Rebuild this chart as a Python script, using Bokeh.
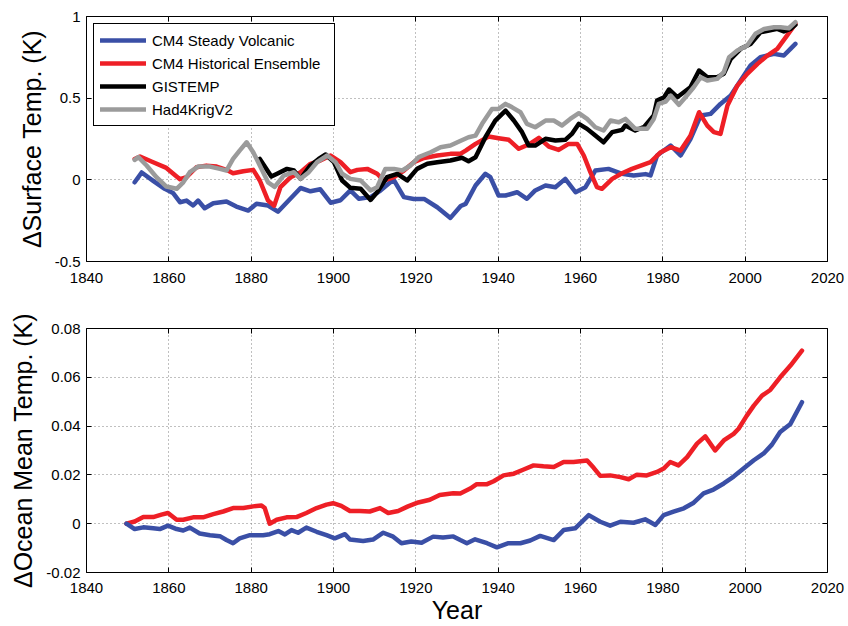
from bokeh.plotting import figure
from bokeh.layouts import column
from bokeh.models import FixedTicker, LinearAxis, Legend, LegendItem, Range1d
from bokeh.embed import file_html
from bokeh.resources import INLINE

# ---------------------------------------------------------------------------
# Surface temperature anomaly (K)
# ---------------------------------------------------------------------------
volc_sfc_years = [1851.7, 1853.4, 1856.2, 1859.0, 1861.0, 1862.7, 1864.3, 1865.9, 1867.1, 1868.7,
                  1870.8, 1874.0, 1876.4, 1879.3, 1881.3, 1884.1, 1886.5, 1892.0, 1894.4, 1896.8,
                  1899.3, 1901.7, 1904.1, 1906.2, 1909.0, 1911.4, 1913.8, 1914.7, 1917.1, 1919.5,
                  1922.0, 1925.2, 1928.4, 1930.9, 1932.1, 1934.5, 1936.9, 1938.1, 1940.1, 1941.8,
                  1944.6, 1947.0, 1949.0, 1951.5, 1953.9, 1956.3, 1958.8, 1961.2, 1963.6, 1966.8,
                  1970.1, 1972.9, 1975.8, 1977.0, 1978.6, 1981.9, 1984.3, 1986.7, 1989.2, 1991.6,
                  1994.0, 1996.5, 1998.9, 2001.3, 2003.7, 2007.0, 2009.4, 2011.0, 2012.2]
volc_sfc = [-0.015, 0.045, -0.006, -0.055, -0.080, -0.137, -0.127, -0.157, -0.127, -0.174,
            -0.143, -0.133, -0.164, -0.188, -0.147, -0.157, -0.195, -0.050, -0.070, -0.058,
            -0.140, -0.125, -0.065, -0.116, -0.106, -0.066, -0.015, -0.003, -0.106, -0.117,
            -0.117, -0.168, -0.233, -0.160, -0.147, -0.035, 0.037, 0.016, -0.096, -0.096,
            -0.076, -0.116, -0.065, -0.035, -0.045, 0.006, -0.076, -0.045, 0.057, 0.067,
            0.037, 0.027, 0.035, 0.027, 0.149, 0.210, 0.149, 0.250, 0.394, 0.404,
            0.465, 0.516, 0.608, 0.700, 0.751, 0.771, 0.761, 0.802, 0.832]

hist_sfc_years = [1851.7, 1853.0, 1856.2, 1859.4, 1862.7, 1864.3, 1866.7, 1869.1, 1871.6, 1874.0,
                  1875.6, 1878.1, 1880.5, 1882.1, 1884.1, 1885.6, 1887.1, 1889.6, 1892.0, 1894.4,
                  1896.8, 1899.3, 1901.7, 1904.1, 1905.8, 1908.2, 1910.6, 1912.2, 1914.7, 1917.1,
                  1919.5, 1922.0, 1925.2, 1928.4, 1930.9, 1932.1, 1934.5, 1937.7, 1940.1, 1942.6,
                  1945.0, 1947.4, 1949.9, 1952.3, 1954.7, 1957.1, 1959.2, 1960.8, 1962.4, 1964.0,
                  1965.2, 1967.7, 1970.1, 1972.5, 1975.0, 1977.0, 1979.5, 1981.9, 1984.3, 1986.7,
                  1988.8, 1990.8, 1992.4, 1994.0, 1995.7, 1998.1, 2000.5, 2003.0, 2005.4, 2007.8,
                  2010.2, 2012.2]
hist_sfc = [0.128, 0.143, 0.108, 0.073, 0.004, 0.016, 0.077, 0.087, 0.081, 0.061,
            0.040, 0.053, 0.061, -0.004, -0.127, -0.158, -0.045, 0.016, 0.047, 0.098,
            0.118, 0.149, 0.108, 0.047, 0.061, 0.067, 0.037, -0.004, 0.016, 0.057,
            0.108, 0.134, 0.149, 0.159, 0.160, 0.179, 0.220, 0.265, 0.255, 0.245,
            0.190, 0.216, 0.257, 0.204, 0.183, 0.220, 0.220, 0.149, 0.047, -0.045,
            -0.055, 0.006, 0.040, 0.067, 0.090, 0.108, 0.169, 0.200, 0.179, 0.270,
            0.414, 0.332, 0.292, 0.281, 0.455, 0.577, 0.649, 0.710, 0.761, 0.802,
            0.884, 0.955]

gistemp_years = [1882.1, 1884.9, 1886.3, 1888.7, 1890.4, 1892.0, 1894.4, 1896.4, 1898.1, 1900.1,
                 1902.1, 1904.1, 1906.6, 1909.0, 1910.6, 1913.0, 1915.5, 1917.9, 1920.3, 1922.8,
                 1925.2, 1928.4, 1931.2, 1932.8, 1934.5, 1936.9, 1939.3, 1941.8, 1943.8, 1945.8,
                 1947.4, 1949.0, 1951.5, 1953.9, 1956.3, 1957.9, 1959.6, 1961.6, 1963.6, 1965.6,
                 1967.7, 1970.1, 1970.9, 1973.3, 1975.5, 1977.8, 1978.6, 1980.3, 1981.5, 1983.5,
                 1985.1, 1986.7, 1988.8, 1990.8, 1993.2, 1994.8, 1996.5, 1998.9, 2001.3, 2003.7,
                 2005.8, 2007.8, 2009.4, 2011.0, 2012.2]
gistemp = [0.128, 0.020, 0.037, 0.067, 0.057, 0.006, 0.088, 0.128, 0.155, 0.108,
           -0.004, -0.049, -0.055, -0.123, -0.076, 0.016, 0.037, -0.004, 0.067, 0.098,
           0.108, 0.118, 0.135, 0.114, 0.138, 0.261, 0.363, 0.424, 0.363, 0.292,
           0.210, 0.210, 0.251, 0.241, 0.245, 0.281, 0.343, 0.312, 0.271, 0.230,
           0.292, 0.306, 0.333, 0.302, 0.325, 0.394, 0.485, 0.506, 0.553, 0.506,
           0.536, 0.567, 0.669, 0.628, 0.628, 0.649, 0.741, 0.802, 0.832, 0.904,
           0.914, 0.924, 0.908, 0.924, 0.949]

had4_years = [1851.7, 1852.6, 1854.6, 1857.0, 1859.4, 1861.9, 1863.5, 1865.1, 1867.1, 1870.0,
              1872.4, 1874.0, 1875.6, 1877.2, 1878.9, 1880.5, 1882.1, 1884.1, 1885.7, 1887.9,
              1890.4, 1892.0, 1894.0, 1896.0, 1898.5, 1900.5, 1902.1, 1904.1, 1906.6, 1909.0,
              1910.6, 1912.6, 1914.7, 1916.7, 1918.7, 1920.7, 1923.6, 1926.0, 1928.4, 1930.5,
              1932.8, 1934.5, 1936.1, 1938.5, 1940.1, 1941.8, 1943.4, 1945.4, 1947.0, 1949.0,
              1951.5, 1953.5, 1955.5, 1957.5, 1959.6, 1961.6, 1963.6, 1965.6, 1967.3, 1969.3,
              1970.9, 1973.3, 1976.2, 1977.8, 1979.0, 1980.7, 1981.9, 1983.9, 1985.5, 1987.5,
              1989.2, 1990.8, 1993.2, 1994.8, 1996.1, 1998.1, 2000.5, 2002.5, 2004.6, 2007.0,
              2008.6, 2010.6, 2012.2]
had4 = [0.122, 0.139, 0.088, 0.016, -0.041, -0.055, -0.015, 0.047, 0.081, 0.081,
        0.067, 0.057, 0.128, 0.179, 0.230, 0.169, 0.088, -0.015, -0.043, 0.026,
        0.047, 0.006, 0.047, 0.108, 0.149, 0.108, 0.037, 0.006, -0.004, -0.065,
        -0.045, 0.067, 0.067, 0.057, 0.088, 0.139, 0.169, 0.200, 0.210, 0.235,
        0.261, 0.271, 0.343, 0.434, 0.434, 0.465, 0.444, 0.414, 0.343, 0.322,
        0.363, 0.363, 0.333, 0.373, 0.408, 0.373, 0.322, 0.302, 0.363, 0.353,
        0.373, 0.312, 0.312, 0.373, 0.465, 0.479, 0.516, 0.459, 0.506, 0.567,
        0.628, 0.608, 0.618, 0.659, 0.751, 0.792, 0.822, 0.894, 0.924, 0.934,
        0.934, 0.928, 0.965]

# ---------------------------------------------------------------------------
# Ocean mean temperature anomaly (K)
# ---------------------------------------------------------------------------
volc_ocn_years = [1849.7, 1851.7, 1853.8, 1856.2, 1857.8, 1859.8, 1861.9, 1863.5, 1865.1, 1867.5,
                  1870.0, 1872.4, 1874.0, 1875.6, 1877.2, 1879.7, 1882.9, 1884.5, 1886.6, 1888.2,
                  1889.8, 1891.4, 1893.4, 1895.9, 1898.3, 1900.3, 1902.8, 1904.0, 1907.2, 1909.6,
                  1912.1, 1914.5, 1916.5, 1918.9, 1921.4, 1924.2, 1926.6, 1929.1, 1930.8, 1932.4,
                  1934.4, 1937.3, 1939.7, 1942.5, 1945.4, 1947.8, 1950.2, 1953.5, 1955.9, 1958.7,
                  1962.0, 1964.8, 1967.2, 1969.7, 1972.9, 1975.7, 1978.2, 1980.2, 1982.6, 1985.1,
                  1987.5, 1989.9, 1992.3, 1994.8, 1997.2, 1999.6, 2002.1, 2004.5, 2006.5, 2008.5,
                  2011.0, 2013.8]
volc_ocn = [0.0, -0.0022, -0.0015, -0.0019, -0.0022, -0.0008, -0.0022, -0.0028, -0.0016, -0.0040,
            -0.0047, -0.0051, -0.0067, -0.0080, -0.0060, -0.0047, -0.0047, -0.0043, -0.0030, -0.0044,
            -0.0026, -0.0037, -0.0016, -0.0033, -0.0047, -0.0060, -0.0043, -0.0065, -0.0071, -0.0065,
            -0.0037, -0.0053, -0.0080, -0.0073, -0.0078, -0.0053, -0.0057, -0.0052, -0.0067, -0.0080,
            -0.0064, -0.0080, -0.0097, -0.0080, -0.0080, -0.0069, -0.0050, -0.0067, -0.0026, -0.0019,
            0.0035, 0.0008, -0.0008, 0.0008, 0.0004, 0.0018, -0.0005, 0.0035, 0.0049, 0.0063,
            0.0086, 0.0124, 0.0140, 0.0165, 0.0193, 0.0226, 0.0260, 0.0288, 0.0324, 0.0376,
            0.0409, 0.0498]

hist_ocn_years = [1849.7, 1851.7, 1853.8, 1856.2, 1858.2, 1859.8, 1861.9, 1863.5, 1865.9, 1868.3,
                  1870.8, 1873.2, 1875.6, 1878.1, 1880.5, 1882.5, 1883.3, 1884.5, 1886.2, 1888.6,
                  1891.0, 1893.4, 1895.9, 1898.3, 1899.9, 1901.9, 1904.0, 1906.4, 1908.8, 1911.3,
                  1913.3, 1915.7, 1918.1, 1920.6, 1923.4, 1925.8, 1929.1, 1930.8, 1933.2, 1934.8,
                  1937.3, 1938.9, 1941.3, 1943.8, 1946.2, 1948.6, 1951.0, 1953.5, 1955.9, 1958.3,
                  1961.6, 1963.2, 1964.8, 1967.2, 1969.7, 1971.7, 1973.7, 1976.1, 1978.6, 1980.2,
                  1981.8, 1983.8, 1985.9, 1988.3, 1990.3, 1992.7, 1994.8, 1997.2, 1998.4, 2000.4,
                  2002.1, 2004.1, 2006.1, 2008.5, 2011.0, 2013.8]
hist_ocn = [0.0, 0.0009, 0.0027, 0.0027, 0.0037, 0.0044, 0.0016, 0.0016, 0.0026, 0.0026,
            0.0039, 0.0050, 0.0064, 0.0064, 0.0071, 0.0075, 0.0064, 0.0, 0.0016, 0.0026,
            0.0027, 0.0044, 0.0064, 0.0078, 0.0084, 0.0073, 0.0052, 0.0052, 0.0050, 0.0064,
            0.0044, 0.0052, 0.0071, 0.0087, 0.0098, 0.0118, 0.0125, 0.0124, 0.0144, 0.0162,
            0.0162, 0.0174, 0.0198, 0.0205, 0.0222, 0.0239, 0.0235, 0.0232, 0.0253, 0.0253,
            0.0259, 0.0229, 0.0196, 0.0198, 0.0191, 0.0182, 0.0201, 0.0198, 0.0212, 0.0226,
            0.0253, 0.0239, 0.0273, 0.0328, 0.0358, 0.0300, 0.0341, 0.0368, 0.0389, 0.0443,
            0.0484, 0.0525, 0.0548, 0.0600, 0.0648, 0.0709]

# Axis ticks and labels
year_ticks = [1840, 1860, 1880, 1900, 1920, 1940, 1960, 1980, 2000, 2020]
sfc_ticks = [-0.5, 0, 0.5, 1]
sfc_tick_labels = ["-0.5", "0", "0.5", "1"]
ocn_ticks = [-0.02, 0, 0.02, 0.04, 0.06, 0.08]
ocn_tick_labels = ["-0.02", "0", "0.02", "0.04", "0.06", "0.08"]

BLUE = "#3a4fa6"
RED = "#ee1f26"
BLACK = "#000000"
GRAY = "#9b9b9b"
FONT = "Liberation Sans"
LW = 4.5


def style_axis(ax, ticks, labels=None, show=True):
    ax.ticker = FixedTicker(ticks=ticks)
    ax.axis_line_color = None
    ax.major_tick_in = 5
    ax.major_tick_out = 0
    ax.major_tick_line_color = "black"
    ax.major_tick_line_width = 1
    ax.minor_tick_line_color = None
    ax.major_label_text_font = FONT
    ax.major_label_text_color = "black"
    if show:
        ax.major_label_text_font_size = "15px"
        if labels is not None:
            ax.major_label_overrides = {t: l for t, l in zip(ticks, labels)}
    else:
        ax.major_label_overrides = {t: "" for t in ticks}
        ax.major_label_text_font_size = "0px"
        ax.major_label_standoff = 0
    ax.axis_label_text_font = FONT
    ax.axis_label_text_font_style = "normal"
    ax.axis_label_text_font_size = "25px"
    ax.axis_label_text_color = "black"


def make_panel(height, border_top, border_bottom, y_lo, y_hi, y_ticks, y_labels, y_title):
    p = figure(width=848, height=height, output_backend="svg", toolbar_location=None,
               x_range=Range1d(1840, 2020), y_range=Range1d(y_lo, y_hi),
               x_axis_location=None, y_axis_location=None,
               min_border_left=86, min_border_right=21,
               min_border_top=border_top, min_border_bottom=border_bottom)
    p.outline_line_color = "black"
    p.outline_line_width = 1
    p.outline_line_alpha = 1
    p.background_fill_color = "white"
    p.border_fill_color = "white"

    bottom = LinearAxis()
    style_axis(bottom, year_ticks)
    bottom.major_label_standoff = 11
    p.add_layout(bottom, "below")

    left = LinearAxis()
    style_axis(left, y_ticks, y_labels)
    left.major_label_standoff = 6
    left.axis_label = y_title
    left.axis_label_standoff = 6
    p.add_layout(left, "left")

    right = LinearAxis()
    style_axis(right, y_ticks, show=False)
    p.add_layout(right, "right")
    top = LinearAxis()
    style_axis(top, year_ticks, show=False)
    p.add_layout(top, "above")

    for g, t in ((p.xgrid[0], year_ticks), (p.ygrid[0], y_ticks)):
        g.ticker = FixedTicker(ticks=t)
        g.grid_line_color = "#808080"
        g.grid_line_dash = "1 3"
        g.grid_line_width = 1
    return p, bottom


# Upper panel: surface temperature
p1, _ = make_panel(310, 16, 49, -0.5, 1.0, sfc_ticks, sfc_tick_labels, "\u0394Surface Temp. (K)")
line_kw = dict(line_width=LW, line_join="round", line_cap="round")
r_volc = p1.line(volc_sfc_years, volc_sfc, line_color=BLUE, **line_kw)
r_hist = p1.line(hist_sfc_years, hist_sfc, line_color=RED, **line_kw)
r_gis = p1.line(gistemp_years, gistemp, line_color=BLACK, **line_kw)
r_had = p1.line(had4_years, had4, line_color=GRAY, **line_kw)

legend = Legend(items=[
    LegendItem(label="CM4 Steady Volcanic", renderers=[r_volc]),
    LegendItem(label="CM4 Historical Ensemble", renderers=[r_hist]),
    LegendItem(label="GISTEMP", renderers=[r_gis]),
    LegendItem(label="Had4KrigV2", renderers=[r_had]),
], location="top_left")
legend.margin = 7
legend.padding = 6
legend.spacing = 3
legend.glyph_width = 46
legend.glyph_height = 20
legend.label_height = 20
legend.label_width = 176
legend.label_standoff = 6
legend.label_text_font = FONT
legend.label_text_font_size = "15px"
legend.label_text_color = "black"
legend.border_line_color = "black"
legend.border_line_width = 1
legend.border_line_alpha = 1
legend.background_fill_color = "white"
legend.background_fill_alpha = 1
p1.add_layout(legend)

# Lower panel: ocean mean temperature
p2, p2_xaxis = make_panel(316, 18, 53, -0.02, 0.08, ocn_ticks, ocn_tick_labels,
                          "\u0394Ocean Mean Temp. (K)")
p2.line(hist_ocn_years, hist_ocn, line_color=RED, **line_kw)
p2.line(volc_ocn_years, volc_ocn, line_color=BLUE, **line_kw)
p2_xaxis.major_label_standoff = 10
p2_xaxis.axis_label = "Year"
p2_xaxis.axis_label_standoff = 0

layout = column(p1, p2, spacing=0)
open("out.html", "w").write(file_html(layout, INLINE))
